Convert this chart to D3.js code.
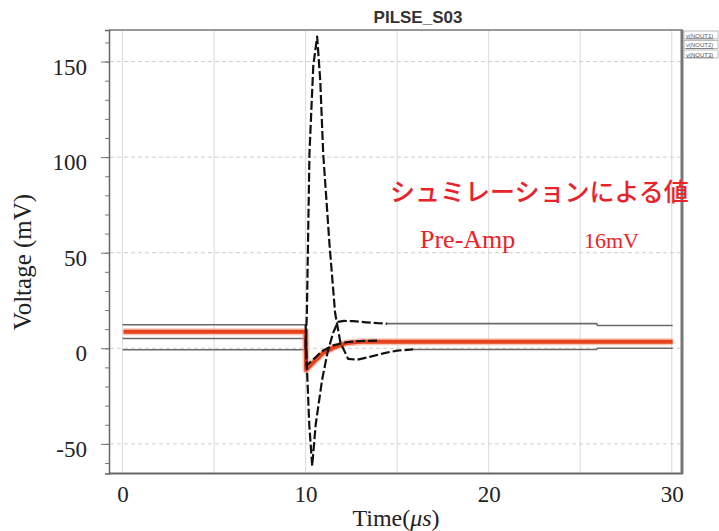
<!DOCTYPE html>
<html><head><meta charset="utf-8">
<script src="https://cdn.jsdelivr.net/npm/d3@7"></script>
<style>
html,body{margin:0;padding:0;background:#fff;}
svg{display:block;}
</style></head>
<body>
<svg id="chart" width="719" height="531"></svg>
<script>
// ---------- data ----------
const chartTitle = "PILSE_S03";
const xTicks = [0, 10, 20, 30];
const yTicks = [-50, 0, 50, 100, 150];
const yTickLabels = ["-50", "0", "50", "100", "150"];
const yMinorTicks = [-60,-50,-40,-30,-20,-10,0,10,20,30,40,50,60,70,80,90,100,110,120,130,140,150,160];
const xGrid = [0, 5, 10, 15, 20, 25, 30];
const legendLabels = ["v(NOUT1)", "v(NOUT2)", "v(NOUT3)"];

// trace P : large positive spike (settles near 0)
const traceP_t = [0, 10, 10.07, 10.21, 10.42, 10.63, 10.8, 10.96, 11.3, 11.61, 11.9, 12.32, 12.8, 13.5, 14.3, 15.0, 15.87, 25.9, 25.95, 30.05];
const traceP_v = [-0.8, -0.8, 18.6, 102, 148, 163, 140, 102, 55, 18.6, 3, -5.5, -6, -4.5, -2.5, -1.2, -0.6, -0.6, 0, 0];
// trace N : negative spike (settles near 13)
const traceN_t = [0, 10, 10.05, 10.2, 10.36, 10.55, 10.9, 11.2, 11.5, 11.77, 12.1, 12.6, 13.3, 14.0, 14.45, 25.9, 25.95, 30.05];
const traceN_v = [12.3, 12.3, -5, -40, -61.5, -40, -16.5, -2, 8, 13.8, 14.3, 14.2, 13.6, 13.1, 12.9, 12.9, 11.9, 11.9];
// trace C : small thin trace (pre 5, settles near 4)
const traceC_t = [0, 10, 10.05, 10.4, 10.9, 11.5, 12.3, 13.0, 14.0, 30.05];
const traceC_v = [5.1, 5.1, -9, -6, -1.5, 1.5, 3.3, 3.8, 4.0, 4.0];
// red trace : Pre-Amp
const traceR_t = [0.05, 10, 10.03, 10.3, 10.6, 10.96, 11.5, 12.0, 12.27, 12.7, 13.1, 14.0, 30.05];
const traceR_v = [8.6, 8.6, -11.3, -8.5, -5.8, -2.4, 0.2, 2.0, 2.8, 3.2, 3.4, 3.4, 3.4];

const annotJa = "シュミレーションによる値";
const annotPre = "Pre-Amp";
const annotVal = "16mV";

// ---------- layout ----------
const svg = d3.select("#chart");
const x = d3.scaleLinear().domain([-0.74, 30.56]).range([109, 682]);
const y = d3.scaleLinear().domain([-65.5, 166.5]).range([473.5, 30]);

// grid
const g = svg.append("g");
g.selectAll("line.vg").data(xGrid).join("line")
  .attr("x1", d => x(d)).attr("x2", d => x(d)).attr("y1", 31).attr("y2", 473)
  .attr("stroke", "#dadada").attr("stroke-width", 1);
g.selectAll("line.hg").data(yTicks).join("line")
  .attr("x1", 110).attr("x2", 681).attr("y1", d => y(d)).attr("y2", d => y(d))
  .attr("stroke", "#cfcfcf").attr("stroke-width", 1).attr("stroke-dasharray", "4,3");

// frame
svg.append("line").attr("x1", 109).attr("x2", 683).attr("y1", 30).attr("y2", 30).attr("stroke", "#777").attr("stroke-width", 1.5);
svg.append("line").attr("x1", 109).attr("x2", 683).attr("y1", 473.5).attr("y2", 473.5).attr("stroke", "#666").attr("stroke-width", 2);
svg.append("line").attr("x1", 682).attr("x2", 682).attr("y1", 30).attr("y2", 474).attr("stroke", "#777").attr("stroke-width", 3);

// y axis
const yAxis = d3.axisLeft(y).tickValues(yMinorTicks).tickSize(4).tickFormat("");
const ya = svg.append("g").attr("transform", "translate(109,0)").call(yAxis);
ya.select(".domain").attr("stroke", "#666").attr("stroke-width", 1.5);
ya.selectAll(".tick line").attr("stroke", "#777");
const yAxisMajor = d3.axisLeft(y).tickValues(yTicks).tickSize(8).tickPadding(14)
  .tickFormat((d, i) => yTickLabels[i]);
const yb = svg.append("g").attr("transform", "translate(109,0)").call(yAxisMajor);
yb.select(".domain").remove();
yb.selectAll(".tick line").attr("stroke", "#777");
yb.selectAll(".tick text").attr("font-family", "Liberation Serif, Times New Roman, serif")
  .attr("font-size", 23).attr("fill", "#222").attr("dy", "0.55em");

// x axis
const xAxis = d3.axisBottom(x).tickValues(xTicks).tickSize(0).tickPadding(12).tickFormat(d3.format("d"));
const xa = svg.append("g").attr("transform", "translate(0,473.5)").call(xAxis);
xa.select(".domain").remove();
xa.selectAll(".tick text").attr("font-family", "Liberation Serif, Times New Roman, serif")
  .attr("font-size", 23).attr("fill", "#222");

// ---------- traces ----------
const toPts = (ts, vs) => ts.map((t, i) => ({t, v: vs[i]}));
const line = d3.line().x(d => x(d.t)).y(d => y(d.v));
function splitSeg(pts, a, b) {
  return {
    before: pts.filter(p => p.t <= a),
    inside: pts.filter(p => p.t >= a && p.t <= b),
    after: pts.filter(p => p.t >= b)
  };
}
const P = toPts(traceP_t, traceP_v), N = toPts(traceN_t, traceN_v),
      C = toPts(traceC_t, traceC_v), R = toPts(traceR_t, traceR_v);
const styles = { P: {win: [10, 15.87]}, N: {win: [10, 14.45]}, C: {win: [10, 17.2]} };
const lay = svg.append("g");
function drawSolid(pts) {
  if (pts.length > 1) lay.append("path").attr("d", line(pts)).attr("fill", "none")
    .attr("stroke", "#6a6a6a").attr("stroke-width", 1.6);
}
function drawDash(pts) {
  if (pts.length > 1) lay.append("path").attr("d", line(pts)).attr("fill", "none")
    .attr("stroke", "#111").attr("stroke-width", 2.2).attr("stroke-dasharray", "9,3")
    .attr("stroke-linejoin", "round");
}
const segs = {P: splitSeg(P, ...styles.P.win), N: splitSeg(N, ...styles.N.win), C: splitSeg(C, ...styles.C.win)};
for (const k of ["P", "N", "C"]) { drawSolid(segs[k].before); drawSolid(segs[k].after); }
lay.append("path").attr("d", line(R)).attr("fill", "none")
  .attr("stroke", "#f2a08a").attr("stroke-width", 7).attr("stroke-linejoin", "round").attr("opacity", 0.6);
lay.append("path").attr("d", line(R)).attr("fill", "none")
  .attr("stroke", "#e8421c").attr("stroke-width", 4).attr("stroke-linejoin", "round");
for (const k of ["C", "N", "P"]) drawDash(segs[k].inside);

// ---------- texts ----------
svg.append("text").attr("x", 418).attr("y", 23).attr("text-anchor", "middle")
  .attr("font-family", "Liberation Sans, Arial, sans-serif").attr("font-weight", "bold")
  .attr("font-size", 17).attr("fill", "#333").text(chartTitle);

svg.append("text").attr("transform", "translate(31,262) rotate(-90)").attr("text-anchor", "middle")
  .attr("font-family", "Liberation Serif, Times New Roman, serif").attr("font-size", 25)
  .attr("fill", "#222").text("Voltage (mV)");

const xl = svg.append("text").attr("x", 396).attr("y", 526).attr("text-anchor", "middle")
  .attr("font-family", "Liberation Serif, Times New Roman, serif").attr("font-size", 24).attr("fill", "#222");
xl.append("tspan").text("Time(");
xl.append("tspan").attr("font-style", "italic").text("μs");
xl.append("tspan").text(")");

svg.append("text").attr("x", 390).attr("y", 201)
  .attr("font-family", "Noto Sans CJK JP, sans-serif").attr("font-size", 25).attr("font-weight", 500)
  .attr("fill", "#e8232a").text(annotJa);
svg.append("text").attr("x", 420).attr("y", 248)
  .attr("font-family", "Liberation Serif, Times New Roman, serif").attr("font-size", 26)
  .attr("fill", "#e8232a").text(annotPre);
svg.append("text").attr("x", 584).attr("y", 248)
  .attr("font-family", "Liberation Serif, Times New Roman, serif").attr("font-size", 22)
  .attr("fill", "#e8232a").text(annotVal);

// legend
const lg = svg.append("g");
legendLabels.forEach((lab, i) => {
  const yy = 31 + i * 9.5;
  lg.append("rect").attr("x", 684).attr("y", yy).attr("width", 34).attr("height", 8)
    .attr("fill", "#fff").attr("stroke", "#aaa").attr("stroke-width", 0.8);
  lg.append("text").attr("x", 686).attr("y", yy + 6.5)
    .attr("font-family", "Liberation Sans, Arial, sans-serif").attr("font-size", 6)
    .attr("fill", "#555").attr("text-decoration", "underline").text(lab);
});
</script>
</body></html>
